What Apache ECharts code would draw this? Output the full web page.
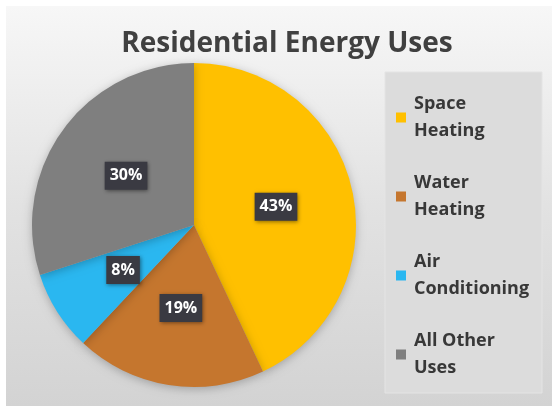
<!DOCTYPE html>
<html>
<head>
<meta charset="utf-8">
<script src="https://cdn.jsdelivr.net/npm/echarts@6/dist/echarts.min.js"></script>
<style>
  html, body { margin: 0; padding: 0; background: #ffffff; }
  #chart { width: 552px; height: 406px; }
</style>
</head>
<body>
<div id="chart"></div>
<script>
// Share of household energy by end use (percent)
const categories = ['Space Heating', 'Water Heating', 'Air Conditioning', 'All Other Uses'];
const shares = [43, 19, 8, 30];
const sliceColors = ['#FFC000', '#C5762E', '#2AB7F0', '#7F7F7F'];
const legendLines = {
  'Space Heating': 'Space\nHeating',
  'Water Heating': 'Water\nHeating',
  'Air Conditioning': 'Air\nConditioning',
  'All Other Uses': 'All Other\nUses'
};

const chart = echarts.init(document.getElementById('chart'), null, { renderer: 'canvas' });

const font = '"Open Sans", "DejaVu Sans", sans-serif';

chart.setOption({
  animation: false,
  color: sliceColors,
  title: {
    text: 'Residential Energy Uses',
    left: 282,
    top: 25,
    textAlign: 'center',
    textStyle: {
      fontFamily: font,
      fontWeight: 'bold',
      fontSize: 28,
      color: '#404040'
    }
  },
  graphic: [
    {
      type: 'rect',
      z: -10,
      shape: { x: 6, y: 6, width: 546, height: 400 },
      style: {
        fill: new echarts.graphic.LinearGradient(0, 0, 0, 1, [
          { offset: 0, color: '#f7f7f7' },
          { offset: 0.5, color: '#e2e2e2' },
          { offset: 1, color: '#d3d3d3' }
        ])
      }
    },
    {
      type: 'rect',
      z: -5,
      shape: { x: 385, y: 72, width: 157, height: 321 },
      style: { fill: '#dcdcdc', stroke: '#e4e4e4', lineWidth: 1 }
    }
  ],
  legend: {
    orient: 'vertical',
    left: 391,
    top: 72,
    itemWidth: 10,
    itemHeight: 10,
    itemGap: -2,
    icon: 'rect',
    data: categories,
    formatter: name => legendLines[name],
    textStyle: {
      fontFamily: font,
      fontWeight: 'bold',
      fontSize: 18,
      lineHeight: 27,
      color: '#383838',
      padding: [27, 0, 0, 3]
    }
  },
  series: [
    {
      type: 'pie',
      center: [194, 225],
      radius: [0, 162],
      startAngle: 90,
      clockwise: true,
      data: categories.map((name, i) => ({ name, value: shares[i] })),
      itemStyle: {
        shadowBlur: 10,
        shadowColor: 'rgba(0,0,0,0.25)',
        shadowOffsetY: 2
      },
      label: {
        position: 'inside',
        formatter: '{c}%',
        fontFamily: font,
        fontWeight: 'bold',
        fontSize: 16,
        lineHeight: 18,
        color: '#ffffff',
        backgroundColor: '#3a3a42',
        padding: [5, 5, 5, 5],
        shadowBlur: 4,
        shadowColor: 'rgba(0,0,0,0.45)',
        shadowOffsetX: 1,
        shadowOffsetY: 1
      },
      labelLine: { show: false },
      emphasis: { disabled: true }
    }
  ]
});
</script>
</body>
</html>
